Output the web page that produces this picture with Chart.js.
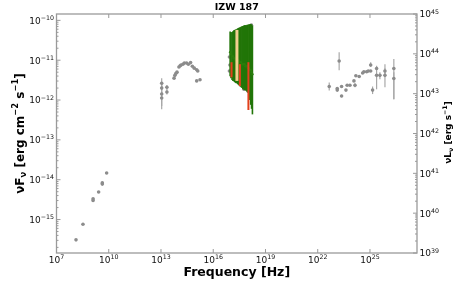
<!DOCTYPE html>
<html>
<head>
<meta charset="utf-8">
<script src="https://cdn.jsdelivr.net/npm/chart.js@4/dist/chart.umd.min.js"></script>
<style>
  body { margin: 0; background: #fff; }
  #wrap { width: 464px; height: 283px; }
</style>
</head>
<body>
<div id="wrap"><canvas id="sedChart" width="464" height="283"></canvas></div>
<script>
// all values are log10: frequency [Hz] and nuFnu [erg cm^-2 s^-1]
const radioNu = [8.12, 8.52, 9.10, 9.10, 9.42, 9.63, 9.63, 9.88];
const radioF  = [-15.51, -15.12, -14.48, -14.52, -14.31, -14.08, -14.11, -13.83];

const irNu = [13.04, 13.04, 13.04, 13.04, 13.34, 13.34, 13.75, 13.80, 13.86, 13.92, 14.03, 14.10,
              14.15, 14.26, 14.34, 14.47, 14.57, 14.70, 14.80, 14.91, 15.05, 15.11, 15.05, 15.24];
const irF  = [-11.58, -11.70, -11.85, -11.95, -11.68, -11.80, -11.45, -11.38, -11.33, -11.30, -11.17, -11.14,
              -11.12, -11.10, -11.07, -11.07, -11.10, -11.06, -11.15, -11.20, -11.24, -11.27, -11.52, -11.49];
const irLo = [-11.72, -11.85, -12.23, -12.15, -11.75, -11.86, null, null, null, null, null, null,
              null, null, null, null, null, null, null, null, null, null, null, null];
const irHi = [-11.45, -11.55, -11.65, -11.80, -11.62, -11.74, null, null, null, null, null, null,
              null, null, null, null, null, null, null, null, null, null, null, null];

const xrGreyNu = [16.93, 16.96, 16.93, 18.19, 17.76, 17.90, 18.00];
const xrGreyF  = [-10.92, -11.12, -11.27, -10.12, -11.73, -11.69, -11.78];

const gammaNu = [22.66, 23.23, 23.12, 23.12, 23.37, 23.37, 23.62, 23.69, 23.85, 24.08, 24.14, 24.19, 24.38, 24.58,
                 24.65, 24.81, 24.90, 25.04, 25.04, 25.15, 25.38, 25.38, 25.57, 25.86, 25.86, 26.37, 26.37];
const gammaF  = [-11.66, -11.02, -11.71, -11.75, -11.66, -11.90, -11.75, -11.63, -11.63, -11.52, -11.63, -11.39, -11.41, -11.32,
                 -11.29, -11.29, -11.27, -11.12, -11.27, -11.75, -11.21, -11.38, -11.38, -11.27, -11.38, -11.21, -11.46];
const gammaLo = [-11.76, -11.25, -11.74, -11.78, -11.69, -11.93, -11.78, null, null, null, -11.68, null, null, null,
                 null, null, null, -11.17, null, -11.85, -11.24, -11.73, -11.48, -11.35, -11.68, -11.98, -11.98];
const gammaHi = [-11.56, -10.80, -11.68, -11.72, -11.63, -11.87, -11.72, null, null, null, -11.58, null, null, null,
                 null, null, null, -11.05, null, -11.66, -11.16, -11.14, -11.30, -11.20, -11.10, -10.97, -11.30];

// X-ray spectrum (green)
const greenNu = [16.97, 17.02, 17.08, 17.13, 17.18, 17.23, 17.28, 17.33, 17.40, 17.45, 17.50, 17.55, 17.60,
                 17.65, 17.70, 17.75, 17.80, 17.85, 17.90, 17.95, 18.00, 18.05, 18.10, 18.15, 18.20, 18.25];
const greenF  = [-10.80, -10.85, -10.90, -10.90, -10.95, -10.95, -11.00, -11.00, -11.00, -11.00, -11.05, -11.05, -11.05,
                 -11.10, -11.10, -11.10, -11.10, -11.15, -11.15, -11.15, -11.20, -11.20, -11.25, -11.25, -11.30, -11.35];
const greenLo = [-11.40, -11.45, -11.50, -11.52, -11.53, -11.55, -11.57, -11.58, -11.60, -11.62, -11.64, -11.66, -11.68,
                 -11.70, -11.72, -11.74, -11.75, -11.76, -11.77, -11.79, -11.82, -11.90, -12.00, -12.12, -12.22, -12.36];
const greenHi = [-10.28, -10.30, -10.29, -10.27, -10.25, -10.24, -10.23, -10.22, -10.20, -10.19, -10.18, -10.17, -10.16,
                 -10.15, -10.14, -10.13, -10.12, -10.12, -10.12, -10.11, -10.11, -10.10, -10.10, -10.09, -10.10, -10.13];

const redNu = [17.05, 17.53, 18.02];
const redF  = [-11.25, -11.38, -11.60];
const redLo = [-11.43, -11.65, -12.25];
const redHi = [-11.05, -11.10, -11.05];

const tanNu = [17.36];
const tanF  = [-10.90];
const tanLo = [-11.52];
const tanHi = [-10.24];

const xTickExp = [7, 10, 13, 16, 19, 22, 25];
const yTickExp = [-15, -14, -13, -12, -11, -10];
const y2TickExp = [39, 40, 41, 42, 43, 44, 45];

const toPts = (nu, f, lo, hi) => nu.map((v, i) => ({
  x: v, y: f[i], lo: lo ? lo[i] : null, hi: hi ? hi[i] : null
}));

const greyPts = [
  ...toPts(radioNu, radioF),
  ...toPts(irNu, irF, irLo, irHi),
  ...toPts(xrGreyNu, xrGreyF),
  ...toPts(gammaNu, gammaF, gammaLo, gammaHi)
];

const FRAME = '#9a9a9a';
const FONT = "'DejaVu Sans', sans-serif";

// text with super/subscripts: parts = [[text, 0 base | 1 sup | 2 sub], ...]
function partFont(size, weight, kind) {
  return `${weight} ${kind ? size * 0.7 : size}px ${FONT}`;
}
function richWidth(ctx, parts, size, weight) {
  let w = 0;
  parts.forEach(([t, k]) => { ctx.font = partFont(size, weight, k); w += ctx.measureText(t).width; });
  return w;
}
function drawRich(ctx, parts, x, y, size, weight, align) {
  const w = richWidth(ctx, parts, size, weight);
  let cx = align === 'center' ? x - w / 2 : align === 'right' ? x - w : x;
  ctx.textAlign = 'left';
  ctx.textBaseline = 'alphabetic';
  parts.forEach(([t, k]) => {
    ctx.font = partFont(size, weight, k);
    const dy = k === 1 ? -size * 0.42 : k === 2 ? size * 0.22 : 0;
    ctx.fillText(t, cx, y + dy);
    cx += ctx.measureText(t).width;
  });
}
const expLabel = e => [['10', 0], [String(e).replace('-', '\u2212'), 1]];

const sedPlugin = {
  id: 'sedPlugin',
  beforeDatasetDraw(chart, args) {
    const ds = chart.data.datasets[args.index];
    const ys = chart.scales.y;
    const ctx = chart.ctx;
    ctx.save();
    ctx.strokeStyle = ds.barColor;
    ctx.lineWidth = ds.barWidth;
    ds.data.forEach((p, i) => {
      if (p.lo == null) return;
      const px = args.meta.data[i].x;
      ctx.beginPath();
      ctx.moveTo(px, ys.getPixelForValue(p.lo));
      ctx.lineTo(px, ys.getPixelForValue(p.hi));
      ctx.stroke();
    });
    ctx.restore();
  },
  afterDraw(chart) {
    const { ctx, chartArea: a, scales } = chart;
    const xs = scales.x, ys = scales.y, y2 = scales.y2;
    ctx.save();
    ctx.strokeStyle = FRAME;
    ctx.lineWidth = 1.3;
    ctx.strokeRect(a.left, a.top, a.right - a.left, a.bottom - a.top);

    ctx.lineWidth = 1;
    const tick = (x1, y1, x2, y2_) => { ctx.beginPath(); ctx.moveTo(x1, y1); ctx.lineTo(x2, y2_); ctx.stroke(); };

    // x ticks, bottom and top
    ctx.fillStyle = '#111';
    xTickExp.forEach(e => {
      const px = xs.getPixelForValue(e);
      tick(px, a.bottom, px, a.bottom - 4);
      tick(px, a.top, px, a.top + 4);
      drawRich(ctx, expLabel(e), px, a.bottom + 9.5, 9, 'normal', 'center');
    });

    // left y ticks with minor ticks
    for (let n = -16; n <= -10; n++) {
      for (let k = 2; k <= 9; k++) {
        const v = n + Math.log10(k);
        if (v < ys.min || v > ys.max) continue;
        const py = ys.getPixelForValue(v);
        tick(a.left, py, a.left + 2, py);
      }
    }
    yTickExp.forEach(e => {
      const py = ys.getPixelForValue(e);
      tick(a.left, py, a.left + 4, py);
      drawRich(ctx, expLabel(e), a.left - 2.5, py + 3.4, 9, 'normal', 'right');
    });

    // right axis: nuLnu
    for (let n = 39; n <= 44; n++) {
      for (let k = 2; k <= 9; k++) {
        const py = y2.getPixelForValue(n + Math.log10(k));
        tick(a.right, py, a.right - 2, py);
      }
    }
    y2TickExp.forEach(e => {
      const py = y2.getPixelForValue(e);
      tick(a.right, py, a.right - 4, py);
      drawRich(ctx, expLabel(e), a.right + 2.5, py + 3.4, 9, 'normal', 'left');
    });

    // titles
    ctx.fillStyle = '#000';
    drawRich(ctx, [['IZW 187', 0]], (a.left + a.right) / 2, 10, 9.5, 'bold', 'center');
    drawRich(ctx, [['Frequency [Hz]', 0]], (a.left + a.right) / 2, 276, 12.5, 'bold', 'center');

    const midY = (a.top + a.bottom) / 2;
    ctx.save();
    ctx.translate(23.5, midY);
    ctx.rotate(-Math.PI / 2);
    drawRich(ctx, [['\u03bdF', 0], ['\u03bd', 2], [' [erg cm', 0], ['\u22122', 1], [' s', 0], ['\u22121', 1], [']', 0]],
      0, 0, 12, 'bold', 'center');
    ctx.restore();

    ctx.save();
    ctx.translate(451, midY - 1);
    ctx.rotate(-Math.PI / 2);
    drawRich(ctx, [['\u03bdL', 0], ['\u03bd', 2], [' [erg s', 0], ['\u22121', 1], [']', 0]],
      0, 0, 9, 'bold', 'center');
    ctx.restore();
    ctx.restore();
  }
};

new Chart(document.getElementById('sedChart'), {
  type: 'scatter',
  data: {
    datasets: [
      { label: 'red', data: toPts(redNu, redF, redLo, redHi), pointRadius: 0, order: 1,
        barColor: '#e2401c', barWidth: 2 },
      { label: 'tan', data: toPts(tanNu, tanF, tanLo, tanHi), pointRadius: 0, order: 2,
        barColor: '#f2cf8f', barWidth: 3 },
      { label: 'xray', data: toPts(greenNu, greenF, greenLo, greenHi), pointRadius: 1.2, pointBorderWidth: 0,
        pointBackgroundColor: '#2a7d0c', order: 3, barColor: '#217508', barWidth: 1.6 },
      { label: 'archival', data: greyPts, pointRadius: 1.8, pointBorderWidth: 0,
        pointBackgroundColor: '#8c8c8c', order: 4, barColor: '#a8a8a8', barWidth: 1.2 }
    ]
  },
  options: {
    responsive: false,
    animation: false,
    layout: { padding: { left: 56.5, top: 14, right: 47, bottom: 30 } },
    plugins: { legend: { display: false }, tooltip: { enabled: false } },
    scales: {
      x: { type: 'linear', display: false, min: 7, max: 27.7 },
      y: { type: 'linear', display: false, min: -15.84, max: -9.84 },
      y2: { type: 'linear', display: false, position: 'right', min: 39, max: 45 }
    }
  },
  plugins: [sedPlugin]
});
</script>
</body>
</html>
